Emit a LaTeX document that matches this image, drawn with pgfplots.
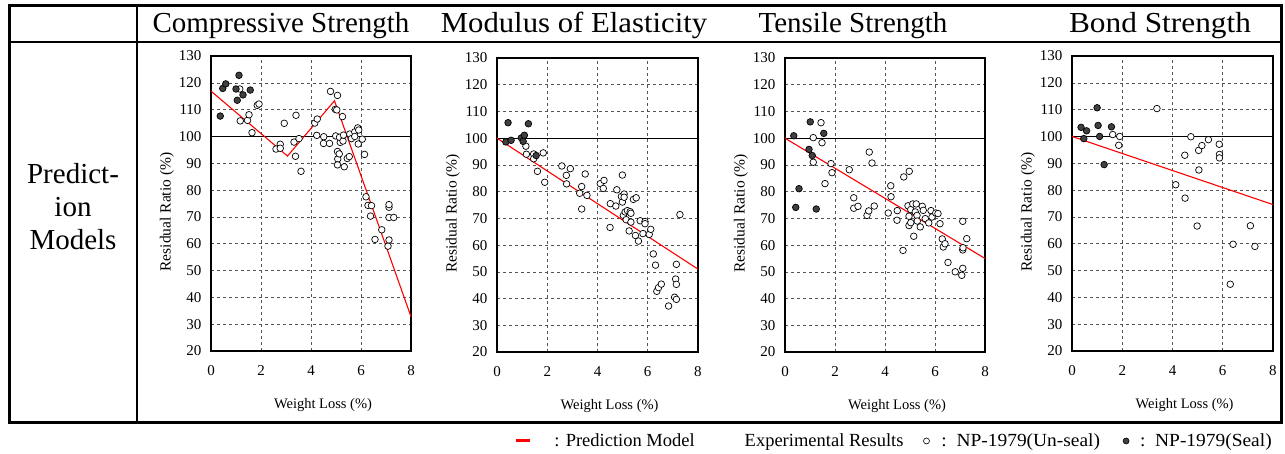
\documentclass[border=0pt]{standalone}
\usepackage{fontspec}
\setmainfont{Liberation Serif}
\usepackage{graphicx}
\usepackage{pgfplots}
\pgfplotsset{compat=1.18}
\definecolor{sealgray}{HTML}{404040}
\definecolor{gridgray}{HTML}{555555}
\pgfplotsset{
 panel/.style={
  scale only axis, width=200pt, height=295pt,
  xmin=0,xmax=8,ymin=20,ymax=130,
  xtick={0,2,4,6,8}, ytick={20,30,...,130},
  grid=major, major grid style={dashed, gridgray, line width=0.6pt},
  axis line style={line width=1.2pt},
  major tick length=0pt,
  /pgf/number format/assume math mode=true,
  tick label style={font=\fontsize{15}{17}\selectfont},
  xticklabel style={yshift=-11pt},
  yticklabel style={xshift=-6pt},
  xlabel={Weight Loss (\%)}, ylabel={Residual Ratio (\%)},
  xlabel style={font=\fontsize{14.5}{16}\selectfont, at={(axis description cs:0.56,-0.183)}, anchor=center},
  ylabel style={font=\fontsize{15.5}{17}\selectfont, at={(axis description cs:-0.22,0.471)}, anchor=center},
 },
 hundred/.style={black, line width=1.2pt, forget plot},
 model/.style={red, line width=1.1pt, forget plot},
 unseal/.style={only marks, mark=*, mark size=3.3pt, mark options={fill=white, draw=black, line width=0.7pt}, forget plot},
 seal/.style={only marks, mark=*, mark size=3.3pt, mark options={fill=sealgray, draw=black, line width=0.7pt}, forget plot},
}
\pgfplotstableread{
x y
0.37 107.6
0.47 117.9
0.59 119.6
1.00 117.7
1.05 113.5
1.12 122.8
1.28 115.5
1.57 117.3
}\csSeal
\pgfplotstableread{
x y
1.15 117.7
1.17 105.8
1.46 106.0
1.52 108.1
1.64 101.4
1.85 111.6
1.92 112.1
2.60 95.3
2.77 97.1
2.77 95.6
2.93 104.9
3.32 97.9
3.40 107.9
3.38 92.6
3.52 99.2
3.60 87.0
4.15 105.0
4.25 106.5
4.23 100.4
4.51 99.9
4.50 97.4
4.74 97.4
4.78 116.8
4.97 110.1
4.99 100.2
5.03 109.9
5.06 115.3
5.06 94.4
5.07 91.6
5.06 89.4
5.13 93.5
5.17 97.8
5.14 99.7
5.26 107.4
5.28 98.3
5.30 100.5
5.33 88.7
5.45 91.8
5.53 92.5
5.55 100.9
5.62 99.2
5.75 101.7
5.75 100.0
5.89 97.2
5.87 103.2
5.91 102.4
6.05 99.0
6.14 93.3
6.20 77.5
6.28 74.3
6.38 70.3
6.42 74.2
6.56 61.6
6.83 65.2
7.08 59.1
7.12 61.4
7.12 69.8
7.12 73.6
7.12 74.6
7.31 69.8
}\csUnseal
\pgfplotstableread{
x y
0.35 98.6
0.44 105.8
0.56 99.2
0.97 100.1
1.04 98.8
1.09 101.1
1.25 105.4
1.56 93.5
}\meSeal
\pgfplotstableread{
x y
1.15 97.0
1.17 94.0
1.46 94.1
1.46 92.3
1.61 87.6
1.84 94.5
1.90 83.5
2.58 89.6
2.76 86.1
2.77 82.9
2.92 88.6
3.29 79.4
3.37 81.9
3.37 73.5
3.51 86.6
3.58 78.6
4.11 83.0
4.23 81.2
4.26 84.2
4.51 75.5
4.50 66.6
4.73 74.6
4.77 80.7
4.95 78.2
4.99 86.2
4.99 76.1
5.03 71.1
5.06 79.1
5.06 77.9
5.10 72.4
5.14 69.5
5.19 72.9
5.26 65.3
5.30 72.5
5.33 68.6
5.33 71.9
5.43 77.1
5.54 77.7
5.51 63.6
5.63 61.5
5.70 69.1
5.81 64.3
5.89 68.8
5.89 68.0
6.06 64.0
6.12 65.9
6.22 56.7
6.31 52.5
6.36 42.7
6.43 44.1
6.54 45.4
6.83 37.2
7.07 40.5
7.14 39.7
7.14 52.8
7.11 47.3
7.14 45.3
7.28 71.4
}\meUnseal
\pgfplotstableread{
x y
0.35 100.9
0.43 74.1
0.56 81.1
0.96 95.8
1.01 106.1
1.09 93.5
1.25 73.5
1.55 101.8
}\tsSeal
\pgfplotstableread{
x y
1.13 100.2
1.13 91.0
1.44 105.8
1.48 98.3
1.60 83.0
1.84 90.5
1.88 87.1
2.57 88.2
2.75 77.7
2.75 73.8
2.92 74.5
3.28 71.1
3.35 72.8
3.37 94.8
3.48 90.7
3.57 74.6
4.13 72.0
4.23 82.2
4.24 78.1
4.49 72.9
4.48 69.3
4.72 58.0
4.75 85.5
4.92 74.7
4.97 87.6
4.96 70.8
4.96 67.3
5.03 73.3
5.03 68.4
5.11 75.4
5.15 63.3
5.21 72.4
5.25 75.4
5.28 71.1
5.29 69.0
5.41 66.8
5.49 74.5
5.53 73.0
5.61 69.9
5.75 68.3
5.84 72.9
5.88 70.5
6.03 72.0
6.12 71.8
6.20 68.0
6.29 62.3
6.33 59.3
6.40 60.5
6.52 53.5
6.81 50.0
7.07 48.7
7.11 51.3
7.11 68.9
7.11 58.2
7.12 59.0
7.27 62.4
}\tsUnseal
\pgfplotstableread{
x y
0.36 103.4
0.47 99.2
0.58 102.1
1.00 110.7
1.04 104.1
1.10 100.0
1.28 89.5
1.57 103.6
}\bsSeal
\pgfplotstableread{
x y
1.62 100.7
1.86 96.7
1.90 100.0
3.38 110.4
4.13 82.0
4.49 93.0
4.50 77.0
4.73 99.9
4.98 66.6
5.04 94.8
5.05 87.5
5.17 96.6
5.43 98.8
5.86 97.1
5.87 93.3
5.87 92.0
6.30 44.9
6.41 59.8
7.10 66.7
7.28 59.0
}\bsUnseal
\begin{document}
\begin{tikzpicture}
\path[use as bounding box] (0pt,0pt) rectangle (1285pt,453pt);
% table frame
\draw[line width=3pt] (9pt,31pt) rectangle (1281.5pt,447pt);
\draw[line width=2pt] (9pt,410.5pt) -- (1281.5pt,410.5pt);
\draw[line width=2pt] (137pt,31pt) -- (137pt,447pt);
% titles
\begin{scope}[every node/.style={font=\fontsize{29}{33}\selectfont, anchor=base}]
\node at (281pt,420pt) {Compressive Strength};
\node at (574pt,420pt) {\scalebox{1.06}[1]{Modulus of Elasticity}};
\node at (853pt,420pt) {Tensile Strength};
\node at (1160pt,420pt) {\scalebox{1.08}[1]{Bond Strength}};
\end{scope}
\node[font=\fontsize{29}{33}\selectfont, align=center] at (73pt,246pt) {Predict-\\ion\\Models};

% Panel 1
\begin{axis}[panel, at={(211pt,102pt)}, anchor=south west, width=200pt, height=295pt]
\addplot[hundred] coordinates {(0,100) (8,100)};
\addplot[model] coordinates {(0,116.9) (3.06,92.7) (4.94,113.3) (8,32.8)};
\addplot[unseal] table {\csUnseal};
\addplot[seal] table {\csSeal};
\end{axis}
% Panel 2
\begin{axis}[panel, at={(497pt,101pt)}, anchor=south west, width=201pt, height=294pt]
\addplot[hundred] coordinates {(0,100) (8,100)};
\addplot[model] coordinates {(0,100) (8,51)};
\addplot[unseal] table {\meUnseal};
\addplot[seal] table {\meSeal};
\end{axis}
% Panel 3
\begin{axis}[panel, at={(785pt,101pt)}, anchor=south west, width=200pt, height=294pt]
\addplot[hundred] coordinates {(0,100) (8,100)};
\addplot[model] coordinates {(0,100) (8,55)};
\addplot[unseal] table {\tsUnseal};
\addplot[seal] table {\tsSeal};
\end{axis}
% Panel 4
\begin{axis}[panel, at={(1072pt,102pt)}, anchor=south west, width=201pt, height=295pt,
  legend columns=-1,
  legend style={at={(axis description cs:-2.775,-0.305)}, anchor=west, draw=none, fill=none,
    font=\fontsize{18.5}{20}\selectfont, inner sep=0pt,
    /tikz/every even column/.append style={column sep=0pt}}]
\addplot[hundred] coordinates {(0,100) (8,100)};
\addplot[model] coordinates {(0,100) (8,74.6)};
\addplot[unseal] table {\bsUnseal};
\addplot[seal] table {\bsSeal};
\addlegendimage{legend image code/.code={\draw[red,line width=3pt] (0pt,0pt) -- (14pt,0pt);}}
\addlegendentry{\rule{21pt}{0pt}: Prediction Model\rule{46pt}{0pt}}
\addlegendimage{empty legend}
\addlegendentry{Experimental Results\rule{18pt}{0pt}}
\addlegendimage{only marks, mark=*, mark size=3pt, mark options={fill=white, draw=black, line width=0.6pt}}
\addlegendentry{\rule{10pt}{0pt}\scalebox{1.05}[1]{:~~NP-1979(Un-seal)}\rule{21pt}{0pt}}
\addlegendimage{only marks, mark=*, mark size=3pt, mark options={fill=sealgray, draw=black, line width=0.6pt}}
\addlegendentry{\rule{9pt}{0pt}\scalebox{1.05}[1]{:~~NP-1979(Seal)}}
\end{axis}
\end{tikzpicture}
\end{document}
